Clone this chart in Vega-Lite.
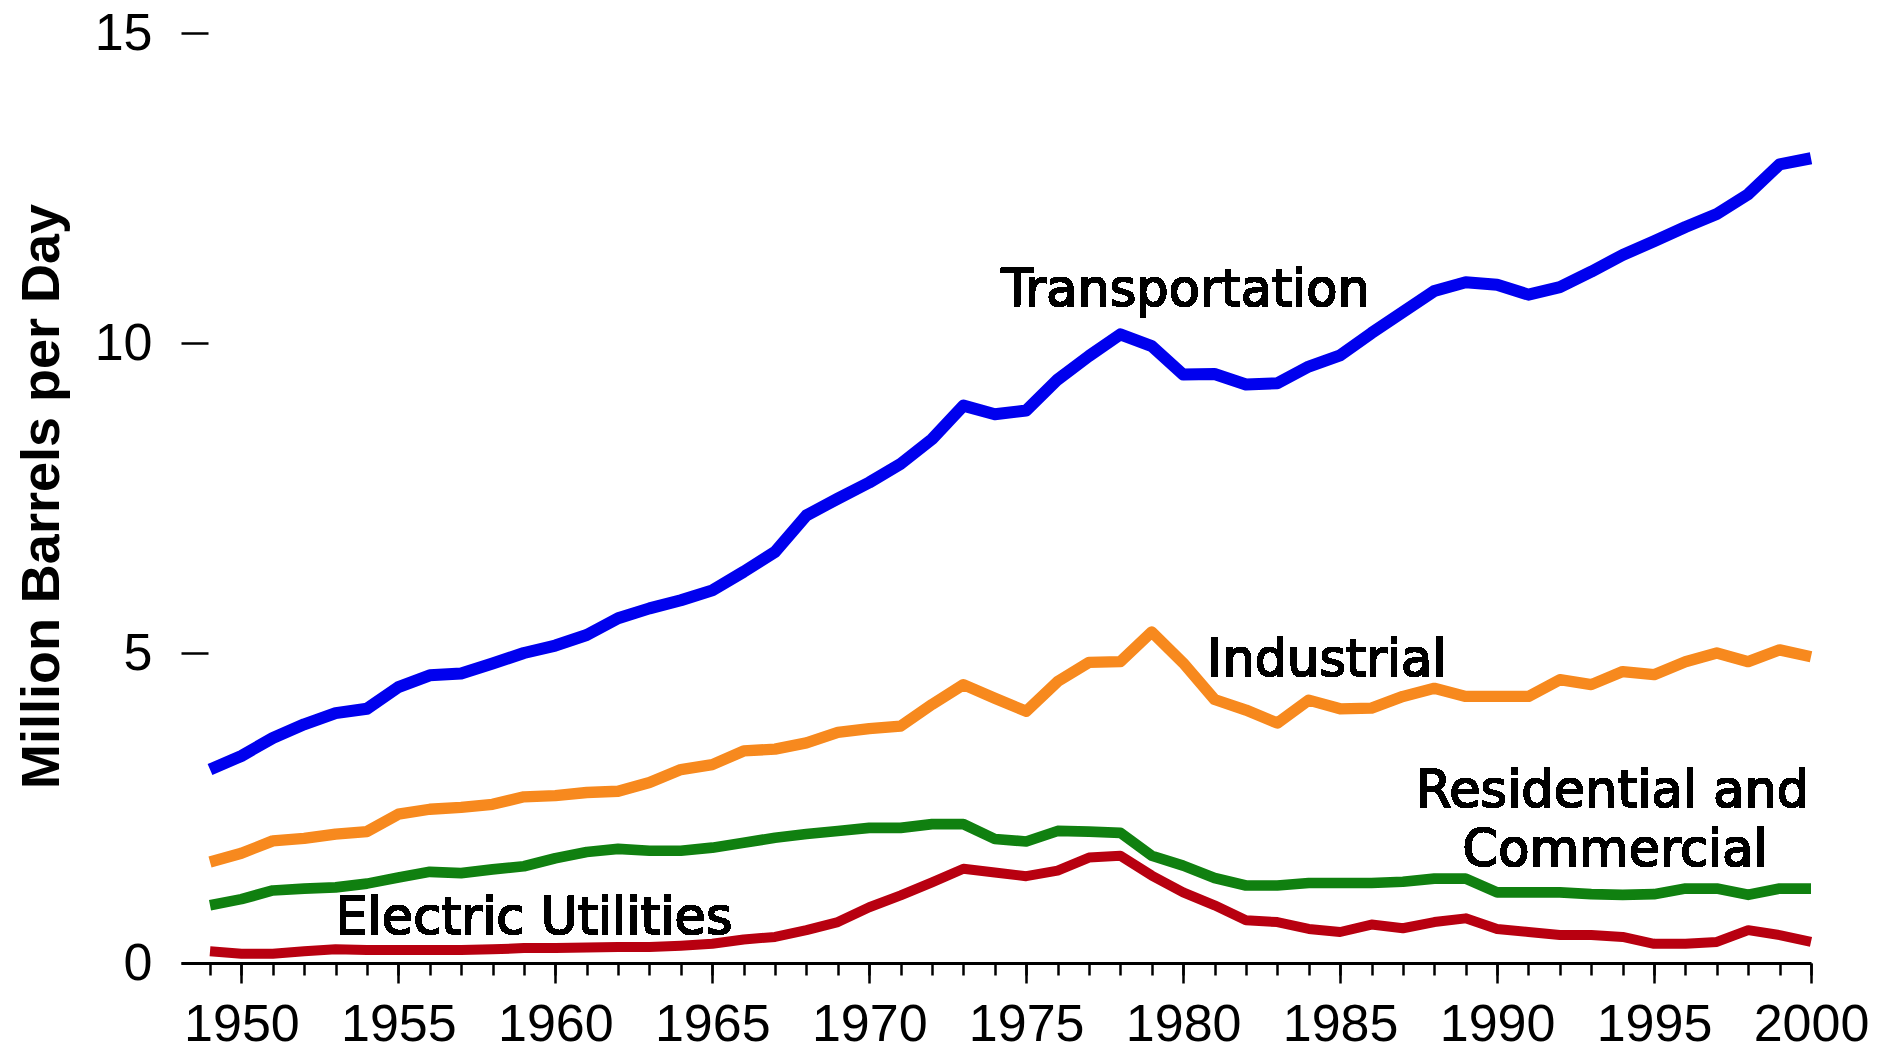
{
  "$schema": "https://vega.github.io/schema/vega-lite/v6.json",
  "autosize": {"type": "none"},
  "padding": {"left": 181, "top": 33, "right": 85, "bottom": 88},
  "width": 1630,
  "height": 930,
  "background": "white",
  "config": {"view": {"stroke": null}, "axis": {"grid": false}},
  "data": {"values": [
    {"year": 1949, "Transportation": 3.12, "Industrial": 1.63, "Residential and Commercial": 0.93, "Electric Utilities": 0.19},
    {"year": 1950, "Transportation": 3.34, "Industrial": 1.77, "Residential and Commercial": 1.03, "Electric Utilities": 0.15},
    {"year": 1951, "Transportation": 3.63, "Industrial": 1.97, "Residential and Commercial": 1.17, "Electric Utilities": 0.15},
    {"year": 1952, "Transportation": 3.85, "Industrial": 2.01, "Residential and Commercial": 1.20, "Electric Utilities": 0.19},
    {"year": 1953, "Transportation": 4.03, "Industrial": 2.08, "Residential and Commercial": 1.22, "Electric Utilities": 0.22},
    {"year": 1954, "Transportation": 4.10, "Industrial": 2.12, "Residential and Commercial": 1.28, "Electric Utilities": 0.21},
    {"year": 1955, "Transportation": 4.45, "Industrial": 2.40, "Residential and Commercial": 1.38, "Electric Utilities": 0.21},
    {"year": 1956, "Transportation": 4.64, "Industrial": 2.48, "Residential and Commercial": 1.47, "Electric Utilities": 0.21},
    {"year": 1957, "Transportation": 4.67, "Industrial": 2.51, "Residential and Commercial": 1.45, "Electric Utilities": 0.21},
    {"year": 1958, "Transportation": 4.83, "Industrial": 2.56, "Residential and Commercial": 1.51, "Electric Utilities": 0.22},
    {"year": 1959, "Transportation": 5.00, "Industrial": 2.68, "Residential and Commercial": 1.56, "Electric Utilities": 0.24},
    {"year": 1960, "Transportation": 5.12, "Industrial": 2.70, "Residential and Commercial": 1.69, "Electric Utilities": 0.24},
    {"year": 1961, "Transportation": 5.29, "Industrial": 2.75, "Residential and Commercial": 1.79, "Electric Utilities": 0.25},
    {"year": 1962, "Transportation": 5.56, "Industrial": 2.77, "Residential and Commercial": 1.84, "Electric Utilities": 0.26},
    {"year": 1963, "Transportation": 5.72, "Industrial": 2.91, "Residential and Commercial": 1.81, "Electric Utilities": 0.26},
    {"year": 1964, "Transportation": 5.85, "Industrial": 3.12, "Residential and Commercial": 1.81, "Electric Utilities": 0.28},
    {"year": 1965, "Transportation": 6.01, "Industrial": 3.20, "Residential and Commercial": 1.86, "Electric Utilities": 0.31},
    {"year": 1966, "Transportation": 6.31, "Industrial": 3.42, "Residential and Commercial": 1.94, "Electric Utilities": 0.38},
    {"year": 1967, "Transportation": 6.63, "Industrial": 3.45, "Residential and Commercial": 2.02, "Electric Utilities": 0.42},
    {"year": 1968, "Transportation": 7.22, "Industrial": 3.55, "Residential and Commercial": 2.08, "Electric Utilities": 0.53},
    {"year": 1969, "Transportation": 7.49, "Industrial": 3.72, "Residential and Commercial": 2.13, "Electric Utilities": 0.66},
    {"year": 1970, "Transportation": 7.75, "Industrial": 3.78, "Residential and Commercial": 2.18, "Electric Utilities": 0.90},
    {"year": 1971, "Transportation": 8.05, "Industrial": 3.82, "Residential and Commercial": 2.18, "Electric Utilities": 1.09},
    {"year": 1972, "Transportation": 8.45, "Industrial": 4.17, "Residential and Commercial": 2.24, "Electric Utilities": 1.30},
    {"year": 1973, "Transportation": 8.99, "Industrial": 4.49, "Residential and Commercial": 2.24, "Electric Utilities": 1.52},
    {"year": 1974, "Transportation": 8.85, "Industrial": 4.27, "Residential and Commercial": 2.00, "Electric Utilities": 1.46},
    {"year": 1975, "Transportation": 8.91, "Industrial": 4.06, "Residential and Commercial": 1.96, "Electric Utilities": 1.40},
    {"year": 1976, "Transportation": 9.41, "Industrial": 4.54, "Residential and Commercial": 2.13, "Electric Utilities": 1.49},
    {"year": 1977, "Transportation": 9.79, "Industrial": 4.85, "Residential and Commercial": 2.12, "Electric Utilities": 1.70},
    {"year": 1978, "Transportation": 10.14, "Industrial": 4.86, "Residential and Commercial": 2.10, "Electric Utilities": 1.73},
    {"year": 1979, "Transportation": 9.95, "Industrial": 5.34, "Residential and Commercial": 1.73, "Electric Utilities": 1.41},
    {"year": 1980, "Transportation": 9.49, "Industrial": 4.84, "Residential and Commercial": 1.57, "Electric Utilities": 1.14},
    {"year": 1981, "Transportation": 9.50, "Industrial": 4.25, "Residential and Commercial": 1.37, "Electric Utilities": 0.93},
    {"year": 1982, "Transportation": 9.33, "Industrial": 4.08, "Residential and Commercial": 1.25, "Electric Utilities": 0.69},
    {"year": 1983, "Transportation": 9.35, "Industrial": 3.87, "Residential and Commercial": 1.25, "Electric Utilities": 0.66},
    {"year": 1984, "Transportation": 9.62, "Industrial": 4.24, "Residential and Commercial": 1.29, "Electric Utilities": 0.55},
    {"year": 1985, "Transportation": 9.80, "Industrial": 4.10, "Residential and Commercial": 1.29, "Electric Utilities": 0.50},
    {"year": 1986, "Transportation": 10.16, "Industrial": 4.11, "Residential and Commercial": 1.29, "Electric Utilities": 0.62},
    {"year": 1987, "Transportation": 10.50, "Industrial": 4.30, "Residential and Commercial": 1.31, "Electric Utilities": 0.56},
    {"year": 1988, "Transportation": 10.84, "Industrial": 4.43, "Residential and Commercial": 1.36, "Electric Utilities": 0.66},
    {"year": 1989, "Transportation": 10.98, "Industrial": 4.30, "Residential and Commercial": 1.36, "Electric Utilities": 0.72},
    {"year": 1990, "Transportation": 10.94, "Industrial": 4.30, "Residential and Commercial": 1.14, "Electric Utilities": 0.55},
    {"year": 1991, "Transportation": 10.78, "Industrial": 4.30, "Residential and Commercial": 1.14, "Electric Utilities": 0.50},
    {"year": 1992, "Transportation": 10.90, "Industrial": 4.57, "Residential and Commercial": 1.14, "Electric Utilities": 0.45},
    {"year": 1993, "Transportation": 11.15, "Industrial": 4.49, "Residential and Commercial": 1.11, "Electric Utilities": 0.45},
    {"year": 1994, "Transportation": 11.42, "Industrial": 4.70, "Residential and Commercial": 1.10, "Electric Utilities": 0.42},
    {"year": 1995, "Transportation": 11.64, "Industrial": 4.65, "Residential and Commercial": 1.11, "Electric Utilities": 0.31},
    {"year": 1996, "Transportation": 11.87, "Industrial": 4.86, "Residential and Commercial": 1.20, "Electric Utilities": 0.31},
    {"year": 1997, "Transportation": 12.08, "Industrial": 5.00, "Residential and Commercial": 1.20, "Electric Utilities": 0.34},
    {"year": 1998, "Transportation": 12.40, "Industrial": 4.86, "Residential and Commercial": 1.10, "Electric Utilities": 0.53},
    {"year": 1999, "Transportation": 12.88, "Industrial": 5.05, "Residential and Commercial": 1.20, "Electric Utilities": 0.45},
    {"year": 2000, "Transportation": 12.98, "Industrial": 4.94, "Residential and Commercial": 1.20, "Electric Utilities": 0.34}
  ]},
  "transform": [
    {"fold": ["Transportation", "Industrial", "Residential and Commercial", "Electric Utilities"], "as": ["sector", "value"]}
  ],
  "layer": [
    {
      "mark": {"type": "line", "strokeJoin": "round"},
      "encoding": {
        "x": {
          "field": "year", "type": "quantitative",
          "scale": {"domain": [1948.076, 2000], "nice": false, "zero": false},
          "axis": {
            "orient": "bottom",
            "values": [1949,1950,1951,1952,1953,1954,1955,1956,1957,1958,1959,1960,1961,1962,1963,1964,1965,1966,1967,1968,1969,1970,1971,1972,1973,1974,1975,1976,1977,1978,1979,1980,1981,1982,1983,1984,1985,1986,1987,1988,1989,1990,1991,1992,1993,1994,1995,1996,1997,1998,1999,2000],
            "labels": false, "domain": false, "tickSize": 12, "tickWidth": 2.5, "tickColor": "black", "title": null
          }
        },
        "y": {
          "field": "value", "type": "quantitative",
          "scale": {"domain": [0, 15], "nice": false},
          "axis": {
            "orient": "left",
            "values": [0, 5, 10, 15], "offset": -27, "domain": false,
            "tickSize": 27, "tickWidth": 2.5, "tickColor": "black",
            "labelFont": "Liberation Sans", "labelFontSize": 52, "labelColor": "black", "labelPadding": 29,
            "title": "Million Barrels per Day", "titleFont": "Liberation Sans", "titleFontSize": 54,
            "titleFontWeight": "bold", "titleColor": "black", "titleAngle": -90, "titleAlign": "center",
            "titleBaseline": "alphabetic", "titleX": -150, "titleY": 463
          }
        },
        "color": {
          "field": "sector", "type": "nominal",
          "scale": {"domain": ["Transportation", "Industrial", "Residential and Commercial", "Electric Utilities"], "range": ["#0000EE", "#F7891E", "#108010", "#B80010"]},
          "legend": null
        },
        "strokeWidth": {
          "field": "sector", "type": "nominal",
          "scale": {"domain": ["Transportation", "Industrial", "Residential and Commercial", "Electric Utilities"], "range": [12, 10, 10, 10]},
          "legend": null
        }
      }
    },
    {
      "mark": {"type": "line", "strokeOpacity": 0},
      "encoding": {
        "x": {
          "field": "year", "type": "quantitative",
          "axis": {
            "orient": "bottom",
            "values": [1950, 1955, 1960, 1965, 1970, 1975, 1980, 1985, 1990, 1995, 2000],
            "format": "d", "tickSize": 20, "tickWidth": 2.5, "tickColor": "black",
            "domain": true, "domainWidth": 3, "domainColor": "black",
            "labelFont": "Liberation Sans", "labelFontSize": 52, "labelColor": "black", "labelPadding": 16,
            "labelFlush": false, "labelOverlap": false, "title": null
          }
        },
        "y": {"field": "value", "type": "quantitative", "axis": null},
        "detail": {"field": "sector", "type": "nominal"}
      }
    },
    {
      "mark": {"type": "text", "text": "Transportation", "font": "DejaVu Sans", "fontSize": 51, "align": "center", "baseline": "alphabetic", "color": "black", "stroke": "black", "strokeWidth": 0.8},
      "encoding": {
        "x": {"datum": 1980.08, "type": "quantitative", "axis": null},
        "y": {"datum": 10.6, "type": "quantitative", "axis": null}
      }
    },
    {
      "mark": {"type": "text", "text": "Industrial", "font": "DejaVu Sans", "fontSize": 51, "align": "center", "baseline": "alphabetic", "color": "black", "stroke": "black", "strokeWidth": 0.8},
      "encoding": {
        "x": {"datum": 1984.58, "type": "quantitative", "axis": null},
        "y": {"datum": 4.633, "type": "quantitative", "axis": null}
      }
    },
    {
      "mark": {"type": "text", "text": "Residential and", "font": "DejaVu Sans", "fontSize": 51, "align": "center", "baseline": "alphabetic", "color": "black", "stroke": "black", "strokeWidth": 0.8},
      "encoding": {
        "x": {"datum": 1993.68, "type": "quantitative", "axis": null},
        "y": {"datum": 2.522, "type": "quantitative", "axis": null}
      }
    },
    {
      "mark": {"type": "text", "text": "Commercial", "font": "DejaVu Sans", "fontSize": 51, "align": "center", "baseline": "alphabetic", "color": "black", "stroke": "black", "strokeWidth": 0.8},
      "encoding": {
        "x": {"datum": 1993.76, "type": "quantitative", "axis": null},
        "y": {"datum": 1.569, "type": "quantitative", "axis": null}
      }
    },
    {
      "mark": {"type": "text", "text": "Electric Utilities", "font": "DejaVu Sans", "fontSize": 51, "align": "center", "baseline": "alphabetic", "color": "black", "stroke": "black", "strokeWidth": 0.8},
      "encoding": {
        "x": {"datum": 1959.32, "type": "quantitative", "axis": null},
        "y": {"datum": 0.472, "type": "quantitative", "axis": null}
      }
    }
  ],
  "resolve": {"axis": {"x": "independent", "y": "independent"}}
}
